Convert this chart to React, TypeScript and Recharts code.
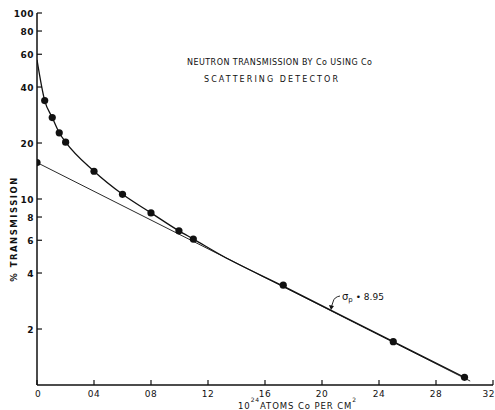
import { ComposedChart, Line, Scatter, XAxis, YAxis } from 'recharts';

// measured transmission points (x in 10^24 atoms/cm^2, y in %)
const measuredX = [0, 0.0054, 0.0107, 0.0156, 0.0201, 0.04, 0.06, 0.08, 0.0996, 0.1097, 0.1728, 0.25, 0.3];
const measuredY = [15.7, 33.8, 27.4, 22.7, 20.2, 14.1, 10.6, 8.42, 6.74, 6.09, 3.44, 1.71, 1.1];

// smooth curve drawn through the measurements
const curveX = [0, 0.0054, 0.0107, 0.0156, 0.0201, 0.04, 0.06, 0.08, 0.0996, 0.1097, 0.13, 0.1728, 0.25, 0.3];
const curveY = [56, 33.8, 27.4, 22.7, 20.2, 14.1, 10.6, 8.42, 6.74, 6.09, 4.95, 3.4, 1.71, 1.1];

// fitted straight line (sigma_p = 8.95)
const fitX = [0, 0.304];
const fitY = [15.7, 1.05];

const xTicks = [0, 0.04, 0.08, 0.12, 0.16, 0.2, 0.24, 0.28, 0.32];
const xTickLabels = ['0', '04', '08', '12', '16', '20', '24', '28', '32'];
const yTicks = [2, 4, 6, 8, 10, 20, 40, 60, 80, 100];

const toPoints = (xs: number[], ys: number[]) => xs.map((x, i) => ({ x, y: ys[i] }));

const measured = toPoints(measuredX, measuredY);
const curve = toPoints(curveX, curveY);
const fit = toPoints(fitX, fitY);

const FONT = '"DejaVu Sans", sans-serif';
const INK = '#111';
const LEFT = 37;
const BOTTOM = 385;

const XTick = ({ x, payload }: any) => {
  const i = xTicks.indexOf(payload.value);
  const last = i === xTicks.length - 1;
  return (
    <g>
      <line x1={x} x2={x} y1={BOTTOM} y2={BOTTOM - 5} stroke={INK} strokeWidth={1.2} />
      <text
        x={i === 0 ? x + 1 : last ? 495 : x}
        y={397}
        textAnchor={last ? 'end' : 'middle'}
        fontSize={9}
        fontFamily={FONT}
        fill={INK}
        letterSpacing={0.5}
      >
        {xTickLabels[i]}
      </text>
    </g>
  );
};

const YTick = ({ y, payload }: any) => (
  <g>
    <line x1={LEFT} x2={LEFT + 5} y1={y} y2={y} stroke={INK} strokeWidth={1.2} />
    <text x={LEFT - 3} y={y + 3.5} textAnchor="end" fontSize={9} fontFamily={FONT} fontWeight="bold" fill={INK} letterSpacing={0.5}>
      {payload.value}
    </text>
  </g>
);

const Dot = (props: any) => <circle cx={props.cx} cy={props.cy} r={3.6} fill={INK} />;

export default function App() {
  return (
    <div style={{ position: 'absolute', left: 0, top: 0, width: 495, height: 410, background: '#fff' }}>
      <ComposedChart width={495} height={410} margin={{ top: 13, right: 2, bottom: 0, left: 0 }}>
        <XAxis
          type="number"
          dataKey="x"
          domain={[0, 0.32]}
          ticks={xTicks}
          interval={0}
          height={25}
          tick={<XTick />}
          tickLine={false}
          axisLine={{ stroke: INK, strokeWidth: 1.3 }}
          allowDataOverflow
        />
        <YAxis
          type="number"
          dataKey="y"
          scale="log"
          domain={[1, 100]}
          ticks={yTicks}
          interval={0}
          width={LEFT}
          tick={<YTick />}
          tickLine={false}
          axisLine={{ stroke: INK, strokeWidth: 1.5 }}
          allowDataOverflow
        />
        <Line data={fit} dataKey="y" type="linear" stroke={INK} strokeWidth={0.9} dot={false} isAnimationActive={false} />
        <Line data={curve} dataKey="y" type="monotone" stroke={INK} strokeWidth={1.3} dot={false} isAnimationActive={false} />
        <Scatter data={measured} dataKey="y" shape={<Dot />} isAnimationActive={false} />
      </ComposedChart>
      <svg width={495} height={410} style={{ position: 'absolute', left: 0, top: 0, pointerEvents: 'none' }}>
        <g fontFamily={FONT} fill={INK} fontSize={8}>
          <text x={187} y={65} textLength={185} lengthAdjust="spacing">NEUTRON TRANSMISSION BY Co USING Co</text>
          <text x={204} y={82} textLength={134} lengthAdjust="spacing">SCATTERING DETECTOR</text>
          <text transform="translate(17,229) rotate(-90)" textAnchor="middle" fontWeight="bold" letterSpacing={1.5} fontSize={8.5}>
            % TRANSMISSION
          </text>
          <text x={238} y={409} fontSize={8.5} letterSpacing={0.9}>
            10
            <tspan dy={-7} fontSize={6}>24</tspan>
            <tspan dy={7}>ATOMS Co PER CM</tspan>
            <tspan dy={-7} fontSize={6}>2</tspan>
          </text>
          <text x={342} y={300} fontSize={10}>
            σ<tspan dy={2} fontSize={7}>p</tspan>
            <tspan dy={-2} fontSize={9}> • 8.95</tspan>
          </text>
        </g>
        <path d="M340 296 Q334 297 333 302 L331 308" stroke={INK} strokeWidth={0.9} fill="none" />
        <path d="M329 305 L331 310 L334 306 Z" fill={INK} />
      </svg>
    </div>
  );
}
